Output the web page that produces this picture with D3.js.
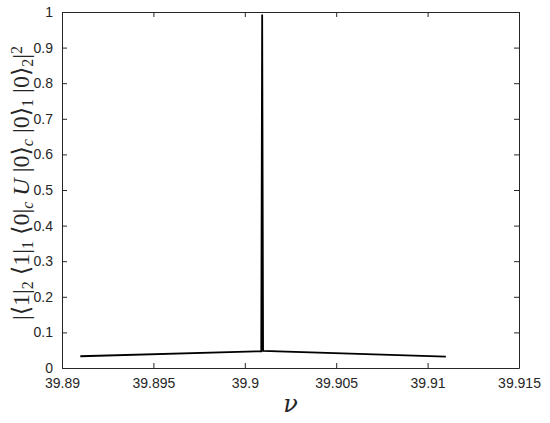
<!DOCTYPE html>
<html><head><meta charset="utf-8">
<script src="https://cdn.jsdelivr.net/npm/d3@7"></script>
<style>body{margin:0;background:#fff;}</style>
</head><body><svg id="c" width="550" height="423"></svg>
<script>
const nu = [39.891, 39.9009, 39.90095, 39.901, 39.911];
const prob = [0.033, 0.047, 0.993, 0.048, 0.032];
const xTicks = [39.89, 39.895, 39.9, 39.905, 39.91, 39.915];
const xTickLabels = ["39.89", "39.895", "39.9", "39.905", "39.91", "39.915"];
const yTicks = [0, 0.1, 0.2, 0.3, 0.4, 0.5, 0.6, 0.7, 0.8, 0.9, 1];
const yTickLabels = ["0", "0.1", "0.2", "0.3", "0.4", "0.5", "0.6", "0.7", "0.8", "0.9", "1"];

const svg = d3.select("#c");
const L = 62, R = 519, T = 12, B = 368;
const x = d3.scaleLinear().domain([39.89, 39.915]).range([L, R]);
const y = d3.scaleLinear().domain([0, 1]).range([B, T]);
const axisCol = "#262626";

const xb = svg.append("g").attr("transform", `translate(0,${B})`)
  .call(d3.axisBottom(x).tickValues(xTicks).tickFormat((d,i)=>xTickLabels[i]).tickSizeInner(-5).tickSizeOuter(0).tickPadding(10));
const xt = svg.append("g").attr("transform", `translate(0,${T})`)
  .call(d3.axisTop(x).tickValues(xTicks).tickFormat("").tickSizeInner(-5).tickSizeOuter(0));
const yl = svg.append("g").attr("transform", `translate(${L},0)`)
  .call(d3.axisLeft(y).tickValues(yTicks).tickFormat((d,i)=>yTickLabels[i]).tickSizeInner(-5).tickSizeOuter(0).tickPadding(9));
const yr = svg.append("g").attr("transform", `translate(${R},0)`)
  .call(d3.axisRight(y).tickValues(yTicks).tickFormat("").tickSizeInner(-5).tickSizeOuter(0));
[xb, xt, yl, yr].forEach(g => {
  g.attr("font-family", "Liberation Sans, Arial, sans-serif").attr("font-size", 14);
  g.selectAll("path").attr("stroke", axisCol).attr("stroke-width", 1);
  g.selectAll("line").attr("stroke", axisCol).attr("stroke-width", 1);
  g.selectAll("text").attr("fill", axisCol);
});

const line = d3.line().x((d,i)=>x(nu[i])).y((d,i)=>y(prob[i]));
svg.append("path").datum(prob).attr("d", line).attr("fill", "none")
  .attr("stroke", "#000").attr("stroke-width", 1.8).attr("stroke-linejoin", "miter");

// x label
svg.append("text").attr("x", (L+R)/2).attr("y", 412).attr("text-anchor", "middle")
  .attr("font-family", "DejaVu Serif, Liberation Serif, serif").attr("font-style", "italic")
  .attr("font-size", 24).attr("fill", axisCol).text("ν");

// y label
const yt = svg.append("text").attr("transform", `translate(29,183) rotate(-90)`)
  .attr("text-anchor", "middle").attr("fill", axisCol)
  .attr("font-family", "Liberation Serif, DejaVu Serif, serif").attr("font-size", 24);
const parts = [
  ["|⟨1|", null], ["2", "sub"], [" ⟨1|", null], ["1", "sub"], [" ⟨0|", null], ["c", "subi"],
  [" ", null], ["U", "i"], [" |0⟩", null], ["c", "subi"], [" |0⟩", null], ["1", "sub"],
  [" |0⟩", null], ["2", "sub"], ["|", null], ["2", "sup"]
];
parts.forEach(([t, k]) => {
  const s = yt.append("tspan").text(t);
  if (k === "sub" || k === "subi") s.attr("baseline-shift", "-25%").attr("font-size", 16);
  if (k === "sup") s.attr("baseline-shift", "45%").attr("font-size", 16);
  if (k === "subi" || k === "i") s.attr("font-style", "italic");
});
</script></body></html>
